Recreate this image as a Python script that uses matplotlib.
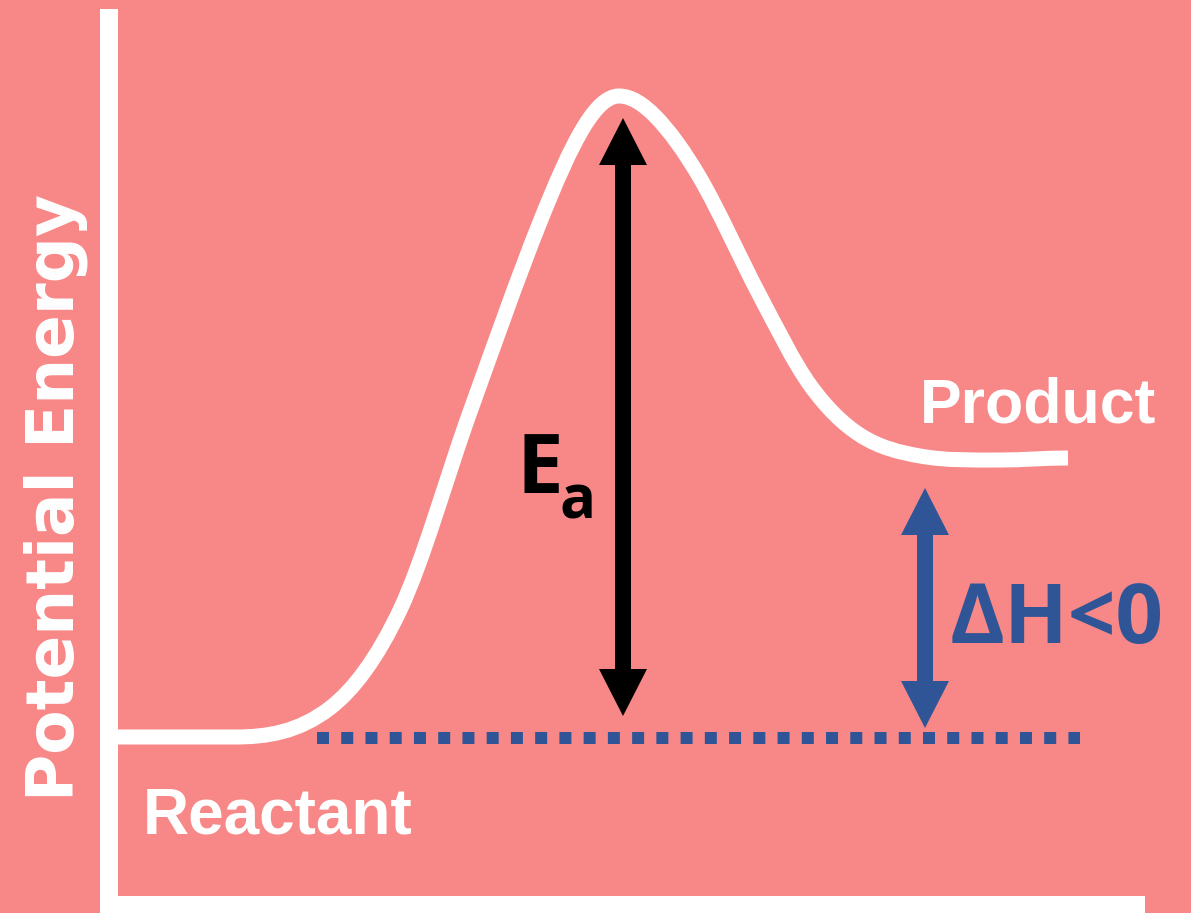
#反应能量图 (放热反应) 坐标单位为任意单位
import numpy as np
import matplotlib
matplotlib.use('Agg')
import matplotlib.pyplot as plt
from matplotlib.patches import FancyArrow, PathPatch
from matplotlib.path import Path

# 曲线上读出的关键点: 反应进程 / 势能
progress = [118, 235, 330, 400, 470, 540, 585, 619, 655, 700, 760, 810, 860, 920, 1000, 1068]
energy = [176, 176, 205, 303, 501, 691, 788, 817, 797, 735, 617, 528, 478, 457, 453, 455]

reactant_level = 175          # 虚线 (反应物能量)
ref_line_x = [317, 1080]
ea_x, ea_range = 623, [197, 795]    # 活化能箭头
dh_x, dh_range = 925, [185, 425]    # 焓变箭头

labels = {'y': 'Potential Energy', 'reactant': 'Reactant', 'product': 'Product',
          'dh': 'ΔH<0', 'ea': 'E', 'ea_sub': 'a'}

bg = '#F78887'
blue = '#2F5597'
px = 0.72  # 像素 -> 磅 (dpi=100)

W, H = 1191, 913
fig = plt.figure(figsize=(W / 100, H / 100), dpi=100)
fig.patch.set_facecolor(bg)
ax = fig.add_axes([0, 0, 1, 1])
ax.set_facecolor(bg)
ax.set_xlim(0, W)
ax.set_ylim(0, H)
ax.axis('off')

# 白色坐标轴
ax.plot([109, 109], [904, -10], color='white', lw=18 * px, solid_capstyle='butt')
ax.plot([100, 1145], [8, 8], color='white', lw=18 * px, solid_capstyle='butt')


# 能量曲线: 关键点之间用三次 Hermite 贝塞尔段连接 (中心差分切线, 平台/峰顶处切线为0)
def smooth_path(xs, ys):
    x = np.asarray(xs, float)
    y = np.asarray(ys, float)
    h = np.diff(x)
    d = np.diff(y) / h
    m = np.zeros_like(y)
    for k in range(1, len(x) - 1):
        if d[k - 1] * d[k] > 0:
            m[k] = (y[k + 1] - y[k - 1]) / (x[k + 1] - x[k - 1])
    verts = [(x[0], y[0])]
    codes = [Path.MOVETO]
    for i in range(len(x) - 1):
        verts += [(x[i] + h[i] / 3, y[i] + m[i] * h[i] / 3),
                  (x[i + 1] - h[i] / 3, y[i + 1] - m[i + 1] * h[i] / 3),
                  (x[i + 1], y[i + 1])]
        codes += [Path.CURVE4] * 3
    return Path(verts, codes)


ax.add_patch(PathPatch(smooth_path(progress, energy), fill=False, ec='white',
                       lw=15 * px, capstyle='butt', joinstyle='round'))

# 蓝色方点虚线
ax.plot(ref_line_x, [reactant_level] * 2, color=blue, lw=12 * px,
        linestyle=(0, (1, 1.02)), dash_capstyle='butt')


def double_arrow(x, rng, color):
    mid = (rng[0] + rng[1]) / 2
    for end in rng:
        ax.add_patch(FancyArrow(x, mid, 0, end - mid, width=16, head_width=48,
                                head_length=47, length_includes_head=True,
                                color=color, lw=0))


double_arrow(ea_x, ea_range, 'black')
double_arrow(dh_x, dh_range, blue)

# 文字
ax.text(74, 416, labels['y'], rotation=90, rotation_mode='anchor', ha='center',
        va='baseline', color='white', fontsize=46.5, fontweight='bold',
        family='DejaVu Sans')
ax.text(143, 80, labels['reactant'], ha='left', va='baseline', color='white',
        fontsize=46, fontweight='bold', family='Liberation Sans')
ax.text(920, 491, labels['product'], ha='left', va='baseline', color='white',
        fontsize=45, fontweight='bold', family='Liberation Sans')
ax.text(516, 420, labels['ea'], ha='left', va='baseline', color='black',
        fontsize=60, fontweight='bold', family=['Open Sans', 'DejaVu Sans'])
ax.text(560, 395, labels['ea_sub'], ha='left', va='baseline', color='black',
        fontsize=43, fontweight='bold', family=['Open Sans', 'DejaVu Sans'])
ax.text(950, 270, labels['dh'], ha='left', va='baseline', color=blue,
        fontsize=60, fontweight='bold', family=['Open Sans', 'DejaVu Sans'])

fig.savefig('out.png', dpi=100, facecolor=bg)
